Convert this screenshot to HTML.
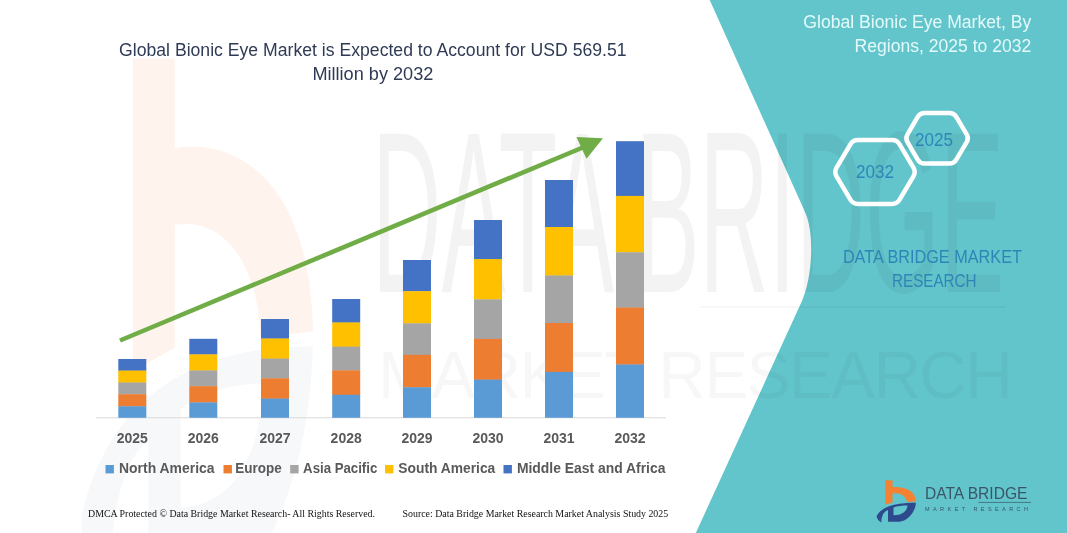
<!DOCTYPE html>
<html lang="en"><head><meta charset="utf-8"><title>Global Bionic Eye Market</title>
<style>
html,body{margin:0;padding:0;background:#fff;}
body{width:1067px;height:533px;overflow:hidden;}
svg{display:block;}
text{font-family:"Liberation Sans",Arial,sans-serif;}
.ttl{font-size:17.5px;fill:#2F3B55;}
.ax{font-size:14px;font-weight:bold;fill:#595959;}
.lg{font-size:14px;font-weight:bold;fill:#595959;}
.ft{font-family:"Liberation Serif","Times New Roman",serif;font-size:10px;fill:#111;}
.rt{font-size:17.5px;fill:#E4FAFA;}
.hx{font-size:18.5px;fill:#2E86B8;}
.db{font-size:17.8px;fill:#2E86B8;}
.o{fill:#F58233;}
.b{fill:#2C4A8C;}
</style></head><body>
<svg width="1067" height="533" viewBox="0 0 1067 533">
<rect width="1067" height="533" fill="#ffffff"/>
<!-- watermark -->
<defs>
<g id="ico">
<path class="o" d="M8.4 0.2 H15.5 V7.2 C28 6.3 38.6 11 38.9 21.5 L30 22 C29.6 16 23.5 12.6 15.5 13.2 V22.8 L8.4 24.6 Z"/>
<path class="b" fill-rule="evenodd" d="M-0.3 36 C4 27 18 22.6 38.9 22.7 C38.5 32 31 41 22 41.8 L11 41.8 L11 30 C7 31.5 4.5 35 4.3 42.5 C1 40.5 -0.5 38 -0.3 36 Z M16.5 27.6 C20 26.2 26 25.6 30.5 25.6 C30 31 26 35 16.5 35.3 Z"/>
</g>
</defs>
<g id="wm">
<g transform="translate(83.4 56) scale(5.9 12.8)"><path opacity="0.085" class="o" d="M8.4 0.2 H15.5 V7.2 C28 6.3 38.6 11 38.9 21.5 L30 22 C29.6 16 23.5 12.6 15.5 13.2 V22.8 L8.4 24.6 Z"/><path opacity="0.04" class="b" fill-rule="evenodd" d="M-0.3 36 C4 27 18 22.6 38.9 22.7 C38.5 32 31 41 22 41.8 L11 41.8 L11 30 C7 31.5 4.5 35 4.3 42.5 C1 40.5 -0.5 38 -0.3 36 Z M16.5 27.6 C20 26.2 26 25.6 30.5 25.6 C30 31 26 35 16.5 35.3 Z"/></g>
</g>
<!-- teal panel -->
<path d="M709.7 0 L1067 0 L1067 533 L695.8 533 L801.5 302 C811.9 279.2 815.3 234.8 805 212 Z" fill="#62C5CB"/>
<g fill="#000"><text opacity="0.043" x="372" y="292" font-size="231" textLength="632" lengthAdjust="spacingAndGlyphs">DATA BRIDGE</text>
<text opacity="0.028" x="378" y="398" font-size="66" textLength="635" lengthAdjust="spacing">MARKET RESEARCH</text><rect opacity="0.03" x="700" y="306" width="306" height="2"/></g>
<!-- axis -->
<line x1="96" y1="417.8" x2="666" y2="417.8" stroke="#D9D9D9" stroke-width="1"/>
<rect x="118.3" y="359.00" width="28" height="11.88" fill="#4472C4"/>
<rect x="118.3" y="370.58" width="28" height="12.23" fill="#FFC000"/>
<rect x="118.3" y="382.52" width="28" height="12.00" fill="#A5A5A5"/>
<rect x="118.3" y="394.22" width="28" height="12.35" fill="#ED7D31"/>
<rect x="118.3" y="406.27" width="28" height="11.53" fill="#5B9BD5"/>
<text x="132.3" y="443.2" text-anchor="middle" class="ax">2025</text>
<rect x="189.3" y="338.80" width="28" height="15.88" fill="#4472C4"/>
<rect x="189.3" y="354.38" width="28" height="16.35" fill="#FFC000"/>
<rect x="189.3" y="370.44" width="28" height="16.04" fill="#A5A5A5"/>
<rect x="189.3" y="386.18" width="28" height="16.51" fill="#ED7D31"/>
<rect x="189.3" y="402.39" width="28" height="15.41" fill="#5B9BD5"/>
<text x="203.3" y="443.2" text-anchor="middle" class="ax">2026</text>
<rect x="261.0" y="319.00" width="28" height="19.80" fill="#4472C4"/>
<rect x="261.0" y="338.50" width="28" height="20.39" fill="#FFC000"/>
<rect x="261.0" y="358.60" width="28" height="20.00" fill="#A5A5A5"/>
<rect x="261.0" y="378.30" width="28" height="20.59" fill="#ED7D31"/>
<rect x="261.0" y="398.59" width="28" height="19.21" fill="#5B9BD5"/>
<text x="275.0" y="443.2" text-anchor="middle" class="ax">2027</text>
<rect x="332.2" y="299.00" width="28" height="23.76" fill="#4472C4"/>
<rect x="332.2" y="322.46" width="28" height="24.47" fill="#FFC000"/>
<rect x="332.2" y="346.64" width="28" height="24.00" fill="#A5A5A5"/>
<rect x="332.2" y="370.34" width="28" height="24.71" fill="#ED7D31"/>
<rect x="332.2" y="394.75" width="28" height="23.05" fill="#5B9BD5"/>
<text x="346.2" y="443.2" text-anchor="middle" class="ax">2028</text>
<rect x="403.0" y="260.00" width="28" height="31.49" fill="#4472C4"/>
<rect x="403.0" y="291.19" width="28" height="32.43" fill="#FFC000"/>
<rect x="403.0" y="323.31" width="28" height="31.80" fill="#A5A5A5"/>
<rect x="403.0" y="354.81" width="28" height="32.74" fill="#ED7D31"/>
<rect x="403.0" y="387.26" width="28" height="30.54" fill="#5B9BD5"/>
<text x="417.0" y="443.2" text-anchor="middle" class="ax">2029</text>
<rect x="474.0" y="220.00" width="28" height="39.41" fill="#4472C4"/>
<rect x="474.0" y="259.11" width="28" height="40.59" fill="#FFC000"/>
<rect x="474.0" y="299.40" width="28" height="39.80" fill="#A5A5A5"/>
<rect x="474.0" y="338.90" width="28" height="40.98" fill="#ED7D31"/>
<rect x="474.0" y="379.58" width="28" height="38.22" fill="#5B9BD5"/>
<text x="488.0" y="443.2" text-anchor="middle" class="ax">2030</text>
<rect x="545.0" y="180.00" width="28" height="47.33" fill="#4472C4"/>
<rect x="545.0" y="227.03" width="28" height="48.75" fill="#FFC000"/>
<rect x="545.0" y="275.48" width="28" height="47.80" fill="#A5A5A5"/>
<rect x="545.0" y="322.98" width="28" height="49.22" fill="#ED7D31"/>
<rect x="545.0" y="371.90" width="28" height="45.90" fill="#5B9BD5"/>
<text x="559.0" y="443.2" text-anchor="middle" class="ax">2031</text>
<rect x="616.0" y="141.20" width="28" height="55.01" fill="#4472C4"/>
<rect x="616.0" y="195.91" width="28" height="56.67" fill="#FFC000"/>
<rect x="616.0" y="252.27" width="28" height="55.56" fill="#A5A5A5"/>
<rect x="616.0" y="307.53" width="28" height="57.22" fill="#ED7D31"/>
<rect x="616.0" y="364.45" width="28" height="53.35" fill="#5B9BD5"/>
<text x="630.0" y="443.2" text-anchor="middle" class="ax">2032</text>
<!-- arrow -->
<line x1="120" y1="340.5" x2="584" y2="147" stroke="#70AD47" stroke-width="4.6"/>
<polygon points="603,138.3 576.4,137 586.5,158.7" fill="#70AD47"/>
<!-- title -->
<text x="372.8" y="56" text-anchor="middle" class="ttl" textLength="507.5" lengthAdjust="spacingAndGlyphs">Global Bionic Eye Market is Expected to Account for USD 569.51</text>
<text x="372.9" y="79.6" text-anchor="middle" class="ttl" textLength="121" lengthAdjust="spacingAndGlyphs">Million by 2032</text>
<!-- legend -->
<rect x="105.5" y="465" width="8.4" height="8.4" fill="#5B9BD5"/>
<text x="119" y="472.9" class="lg" textLength="95.5" lengthAdjust="spacingAndGlyphs">North America</text>
<rect x="223.5" y="465" width="8.4" height="8.4" fill="#ED7D31"/>
<text x="235.3" y="472.9" class="lg" textLength="46.4" lengthAdjust="spacingAndGlyphs">Europe</text>
<rect x="290.2" y="465" width="8.4" height="8.4" fill="#A5A5A5"/>
<text x="303.1" y="472.9" class="lg" textLength="74.2" lengthAdjust="spacingAndGlyphs">Asia Pacific</text>
<rect x="385" y="465" width="8.4" height="8.4" fill="#FFC000"/>
<text x="398.3" y="472.9" class="lg" textLength="97" lengthAdjust="spacingAndGlyphs">South America</text>
<rect x="503.5" y="465" width="8.4" height="8.4" fill="#4472C4"/>
<text x="516.9" y="472.9" class="lg" textLength="148.5" lengthAdjust="spacingAndGlyphs">Middle East and Africa</text>
<!-- footer -->
<text x="88" y="517.3" class="ft" textLength="287" lengthAdjust="spacingAndGlyphs">DMCA Protected © Data Bridge Market Research-  All Rights Reserved.</text>
<text x="402.5" y="517.3" class="ft" textLength="265.7" lengthAdjust="spacingAndGlyphs">Source: Data Bridge Market Research  Market Analysis Study 2025</text>
<!-- right panel text -->
<text x="1031.3" y="27.6" text-anchor="end" class="rt" textLength="228" lengthAdjust="spacingAndGlyphs">Global Bionic Eye Market, By</text>
<text x="1031.3" y="51.8" text-anchor="end" class="rt" textLength="176.7" lengthAdjust="spacingAndGlyphs">Regions, 2025 to 2032</text>
<!-- hexagons -->
<path d="M836.6 176.3 Q834.0 172.0 836.6 167.7 L850.4 144.3 Q853.0 140.0 858.0 140.0 L892.0 140.0 Q897.0 140.0 899.6 144.3 L913.4 167.7 Q916.0 172.0 913.4 176.3 L899.6 199.7 Q897.0 204.0 892.0 204.0 L858.0 204.0 Q853.0 204.0 850.4 199.7 Z" fill="none" stroke="#FFFFFF" stroke-width="4.5" stroke-linejoin="round"/>
<path d="M907.5 142.2 Q905.2 138.3 907.5 134.4 L917.7 116.9 Q920.0 113.0 924.5 113.0 L949.5 113.0 Q954.0 113.0 956.3 116.9 L966.7 134.4 Q969.0 138.3 966.7 142.2 L956.3 159.7 Q954.0 163.6 949.5 163.6 L924.5 163.6 Q920.0 163.6 917.7 159.7 Z" fill="none" stroke="#FFFFFF" stroke-width="4.5" stroke-linejoin="round"/>
<text x="875" y="177.5" text-anchor="middle" class="hx" textLength="38" lengthAdjust="spacingAndGlyphs">2032</text>
<text x="934" y="146" text-anchor="middle" class="hx" textLength="38" lengthAdjust="spacingAndGlyphs">2025</text>
<text x="932.4" y="262.6" text-anchor="middle" class="db" textLength="179" lengthAdjust="spacingAndGlyphs">DATA BRIDGE MARKET</text>
<text x="934.3" y="286.6" text-anchor="middle" class="db" textLength="84.6" lengthAdjust="spacingAndGlyphs">RESEARCH</text>
<!-- logo -->
<g id="logo">
<use href="#ico" transform="translate(877 480)"/>
<text x="925" y="498.8" font-size="16" fill="#3B5568" textLength="102.4" lengthAdjust="spacingAndGlyphs">DATA BRIDGE</text>
<line x1="978.4" y1="502.4" x2="1031" y2="502.4" stroke="#3B5568" stroke-width="0.7"/>
<text x="925" y="511" font-size="5.5" fill="#3B5568" textLength="103" lengthAdjust="spacing">MARKET RESEARCH</text>
</g>
</svg>
</body></html>
